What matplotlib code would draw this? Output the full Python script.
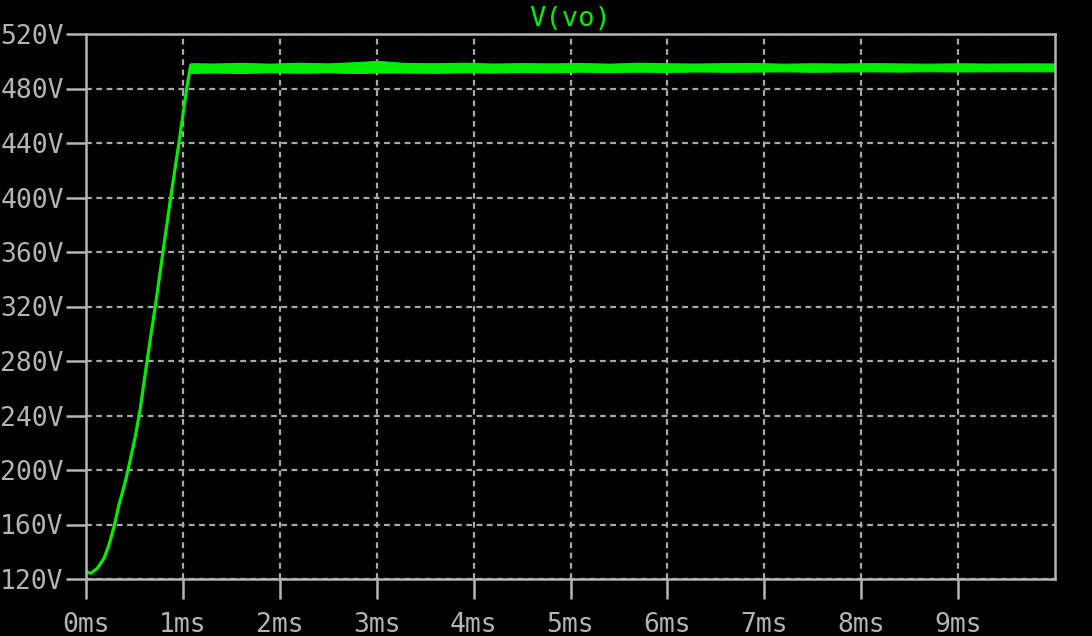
import matplotlib
matplotlib.use("Agg")
import matplotlib.pyplot as plt
from matplotlib.ticker import FuncFormatter, MultipleLocator

# V(vo) transient: start-up ramp (ms, V)
t_rise = [0.0, 0.05, 0.117, 0.186, 0.237, 0.289, 0.34, 0.41, 0.46, 0.51,
          0.56, 0.62, 0.68, 0.715, 0.79, 0.874, 0.963, 1.039, 1.08]
v_rise = [125.2, 124.2, 127.9, 135.2, 145.0, 158.4, 174.3, 192.7, 208.5, 225.0,
          245.0, 275.0, 304.0, 320.0, 358.0, 400.0, 442.0, 480.0, 497.0]

# regulated part: ripple band (upper / lower envelope)
t_flat = [1.08, 1.3, 1.6, 1.9, 2.2, 2.5, 2.8, 3.0, 3.3, 3.6, 3.9, 4.2, 4.5,
          4.8, 5.1, 5.4, 5.7, 6.0, 6.3, 6.6, 6.9, 7.2, 7.5, 7.8, 8.1, 8.4,
          8.7, 9.0, 9.3, 9.6, 10.0]
v_hi = [498.6, 498.3, 498.8, 498.2, 498.9, 498.4, 499.4, 500.3, 498.7, 498.5,
        498.9, 498.3, 498.6, 498.4, 498.7, 498.2, 498.9, 498.5, 498.3, 498.6,
        498.7, 498.2, 498.5, 498.3, 498.6, 498.4, 498.2, 498.5, 498.3, 498.4,
        498.4]
v_lo = [491.4, 491.8, 491.4, 492.0, 491.6, 491.9, 491.4, 491.7, 491.8, 491.5,
        492.0, 491.7, 492.2, 491.9, 492.4, 492.1, 492.4, 492.2, 492.5, 492.3,
        492.4, 492.6, 492.3, 492.5, 492.6, 492.4, 492.7, 492.5, 492.6, 492.7,
        492.6]

x_ticks = [0, 1, 2, 3, 4, 5, 6, 7, 8, 9]
y_min, y_max, y_step = 120, 520, 40

green = "#00f000"
gray = "#b4b4b4"

plt.rcParams["lines.scale_dashes"] = False
fig = plt.figure(figsize=(10.92, 6.36), dpi=100, facecolor="black")
ax = fig.add_axes([86 / 1092, 57 / 636, 969 / 1092, 545 / 636], facecolor="black")

ax.plot(t_rise, v_rise, color=green, lw=2.3, solid_capstyle="round",
        solid_joinstyle="round")
ax.fill_between(t_flat, v_lo, v_hi, color=green, lw=0.8, edgecolor=green)

ax.set_xlim(0, 10)
ax.set_ylim(y_min, y_max)
ax.set_xticks(x_ticks)
ax.yaxis.set_major_locator(MultipleLocator(y_step))
ax.xaxis.set_major_formatter(FuncFormatter(lambda v, p: f"{v:.0f}ms"))
ax.yaxis.set_major_formatter(FuncFormatter(lambda v, p: f"{v:.0f}V"))

ax.grid(True, color="#a8a8a8", lw=1.6, linestyle=(0, (4.2, 3.2)))
ax.set_axisbelow(True)
for s in ax.spines.values():
    s.set_color(gray)
    s.set_linewidth(1.8)

ax.tick_params(axis="both", direction="out", length=14.5, width=1.8,
               color=gray, labelcolor=gray, labelsize=19)
ax.tick_params(axis="x", pad=9)
ax.tick_params(axis="y", pad=1.5)
for lab in ax.get_xticklabels() + ax.get_yticklabels():
    lab.set_family("DejaVu Sans Mono")

ax.set_title("V(vo)", color=green, fontsize=19.5, family="DejaVu Sans Mono", pad=6)

fig.savefig("out.png", dpi=100, facecolor="black")
